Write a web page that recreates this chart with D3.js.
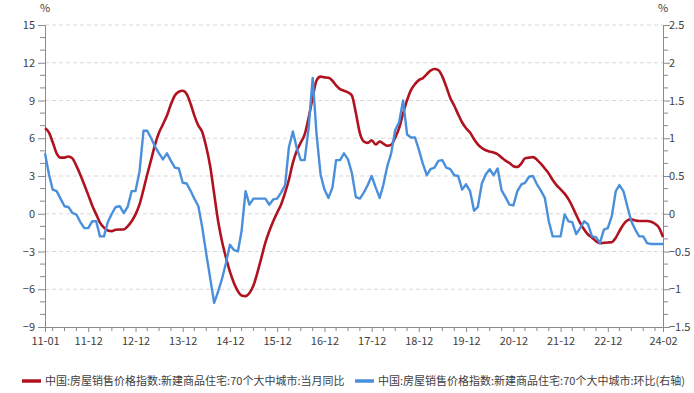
<!DOCTYPE html>
<html><head><meta charset="utf-8">
<script src="https://cdn.jsdelivr.net/npm/d3@7"></script>
<style>
html,body{margin:0;padding:0;background:#fff;}
svg{display:block;font-family:"Noto Sans CJK SC","Microsoft YaHei",sans-serif;}
</style></head>
<body><svg id="chart" width="694" height="393"></svg>
<script>
// ---- data ----
const startMonth = "2011-01";
const seriesNames = ["中国:房屋销售价格指数:新建商品住宅:70个大中城市:当月同比",
                     "中国:房屋销售价格指数:新建商品住宅:70个大中城市:环比(右轴)"];
const yoy = [6.8,6.45,5.7,4.8,4.46,4.46,4.55,4.4,3.8,3.1,2.3,1.5,
 0.66,-0.05,-0.7,-1.1,-1.33,-1.38,-1.27,-1.25,-1.25,-1.0,-0.6,-0.05,
 0.74,1.94,3.1,4.3,5.5,6.45,7.1,7.8,8.7,9.4,9.7,9.77,
 9.5,8.7,7.8,7.0,6.5,5.3,3.8,1.6,-0.6,-2.2,-3.5,-4.6,
 -5.5,-6.16,-6.5,-6.55,-6.3,-5.7,-4.7,-3.5,-2.3,-1.4,-0.6,0.08,
 0.74,1.67,2.7,4.06,5.0,5.66,6.3,7.65,9.24,10.6,10.9,10.84,
 10.8,10.57,10.2,9.9,9.77,9.64,9.4,8.0,6.4,5.74,5.63,5.84,
 5.5,5.74,5.58,5.4,5.47,6.06,6.8,7.97,9.03,9.83,10.3,10.62,
 10.78,11.1,11.37,11.5,11.42,10.9,10.1,9.2,8.58,7.9,7.25,6.8,
 6.45,5.92,5.52,5.23,5.05,4.94,4.86,4.73,4.46,4.22,4.03,3.78,
 3.72,4.0,4.4,4.46,4.5,4.3,3.98,3.6,3.19,2.68,2.26,1.94,
 1.6,1.14,0.6,-0.1,-0.72,-1.25,-1.65,-1.9,-2.18,-2.34,-2.31,-2.28,
 -2.26,-1.9,-1.38,-0.85,-0.53,-0.45,-0.53,-0.58,-0.58,-0.58,-0.64,-0.8,
 -1.1,-1.86];
const mom = [0.80,0.52,0.32,0.30,0.20,0.10,0.09,0.01,-0.01,-0.11,-0.19,-0.19,
 -0.10,-0.10,-0.30,-0.30,-0.11,0.0,0.09,0.10,0.01,0.09,0.30,0.30,
 0.56,1.10,1.10,1.0,0.89,0.80,0.72,0.80,0.70,0.61,0.60,0.41,
 0.40,0.30,0.20,0.10,-0.18,-0.53,-0.85,-1.18,-1.03,-0.86,-0.65,-0.41,
 -0.48,-0.50,-0.23,0.30,0.12,0.20,0.20,0.20,0.20,0.12,0.19,0.20,
 0.28,0.38,0.88,1.09,0.87,0.71,0.71,1.14,1.80,1.05,0.52,0.32,
 0.21,0.35,0.71,0.71,0.80,0.72,0.54,0.22,0.20,0.28,0.38,0.50,
 0.35,0.21,0.38,0.63,0.80,1.11,1.21,1.50,1.05,1.01,1.01,0.85,
 0.66,0.51,0.59,0.61,0.70,0.71,0.61,0.59,0.51,0.50,0.32,0.39,
 0.30,0.04,0.09,0.40,0.52,0.59,0.51,0.60,0.31,0.22,0.12,0.11,
 0.30,0.39,0.41,0.49,0.50,0.39,0.31,0.21,-0.10,-0.30,-0.30,-0.30,
 -0.01,-0.10,-0.11,-0.27,-0.19,-0.10,-0.14,-0.30,-0.31,-0.39,-0.21,-0.19,
 -0.03,0.30,0.38,0.30,0.10,-0.10,-0.21,-0.30,-0.30,-0.39,-0.40,-0.40,
 -0.40,-0.40];
const xTickLabels = ["11-01","11-12","12-12","13-12","14-12","15-12","16-12","17-12","18-12","19-12","20-12","21-12","22-12","24-02"];
const leftTicks = [-9,-6,-3,0,3,6,9,12,15];
const rightTicks = [-1.5,-1,-0.5,0,0.5,1,1.5,2,2.5];

// ---- layout ----
const svg = d3.select("#chart");
const L = 45, R = 663, T = 25, B = 327;
const parse = d3.timeParse("%Y-%m");
const fmt = d3.timeFormat("%y-%m");
const months = d3.timeMonth.range(parse(startMonth), d3.timeMonth.offset(parse(startMonth), yoy.length));
const x = d3.scaleTime().domain([months[0], months[months.length-1]]).range([L, R]);
const yL = d3.scaleLinear().domain([-9, 15]).range([B, T]);
const yR = d3.scaleLinear().domain([-1.5, 2.5]).range([B, T]);
const red = "#b01220", blue = "#4a8fdc", axisCol = "#8a8a8a", txt = "#404040";

// grid
svg.append("g").selectAll("line").data(leftTicks.filter(d => d > -9)).join("line")
  .attr("x1", L).attr("x2", R).attr("y1", d => yL(d)).attr("y2", d => yL(d))
  .attr("stroke", "#d9d9d9").attr("stroke-width", 1).attr("stroke-dasharray", "4,3");

// left axis
const minorL = d3.range(-9, 15.01, 1).filter(v => !leftTicks.includes(v));
const gl = svg.append("g").attr("transform", `translate(${L},0)`)
  .call(d3.axisLeft(yL).tickValues(leftTicks).tickSize(7).tickPadding(3));
gl.append("g").selectAll("line").data(minorL).join("line")
  .attr("x1", -5).attr("x2", 0).attr("y1", d => yL(d)).attr("y2", d => yL(d));
// right axis
const minorR = d3.range(-1.5, 2.5001, 1/6).filter(v => !rightTicks.some(t => Math.abs(t - v) < 1e-6));
const gr = svg.append("g").attr("transform", `translate(${R},0)`)
  .call(d3.axisRight(yR).tickValues(rightTicks).tickSize(7).tickPadding(-1).tickFormat(d3.format("")));
gr.append("g").selectAll("line").data(minorR).join("line")
  .attr("x1", 0).attr("x2", 5).attr("y1", d => yR(d)).attr("y2", d => yR(d));
// bottom axis
const tickDates = xTickLabels.map(s => parse("20" + s));
const minorX = months.filter(m => m.getMonth() % 3 === 2 && !tickDates.some(t => +t === +m));
const gb = svg.append("g").attr("transform", `translate(0,${B})`)
  .call(d3.axisBottom(x).tickValues(tickDates).tickFormat(fmt).tickSize(5).tickPadding(5));
gb.append("g").selectAll("line").data(minorX).join("line")
  .attr("x1", d => x(d)).attr("x2", d => x(d)).attr("y1", 0).attr("y2", 4);

[gl, gr, gb].forEach(g => {
  g.selectAll(".domain").attr("stroke", axisCol);
  g.selectAll("line").attr("stroke", axisCol);
  g.selectAll("text").attr("fill", txt).style("font-size", "11px")
   .style("font-family", "'Noto Sans CJK SC','Microsoft YaHei',sans-serif");
});

// unit labels
svg.append("text").attr("x", L).attr("y", 12).attr("text-anchor", "middle")
  .attr("fill", txt).style("font-size", "11px").text("%");
svg.append("text").attr("x", R).attr("y", 12).attr("text-anchor", "middle")
  .attr("fill", txt).style("font-size", "11px").text("%");

// lines
const lineL = d3.line().x((d, i) => x(months[i])).y(d => yL(d)).curve(d3.curveMonotoneX);
const lineR = d3.line().x((d, i) => x(months[i])).y(d => yR(d));
svg.append("path").datum(yoy).attr("d", lineL).attr("fill", "none")
  .attr("stroke", red).attr("stroke-width", 2.6).attr("stroke-linejoin", "round");
svg.append("path").datum(mom).attr("d", lineR).attr("fill", "none")
  .attr("stroke", blue).attr("stroke-width", 2.4).attr("stroke-linejoin", "round");

// legend
const leg = [{name: seriesNames[0], c: red, x: 22}, {name: seriesNames[1], c: blue, x: 355}];
const lg = svg.append("g");
leg.forEach(d => {
  lg.append("line").attr("x1", d.x).attr("x2", d.x + 19).attr("y1", 381).attr("y2", 381)
    .attr("stroke", d.c).attr("stroke-width", 3.5);
  lg.append("text").attr("x", d.x + 23).attr("y", 385).attr("fill", txt)
    .style("font-size", "11px").text(d.name);
});
</script></body></html>
